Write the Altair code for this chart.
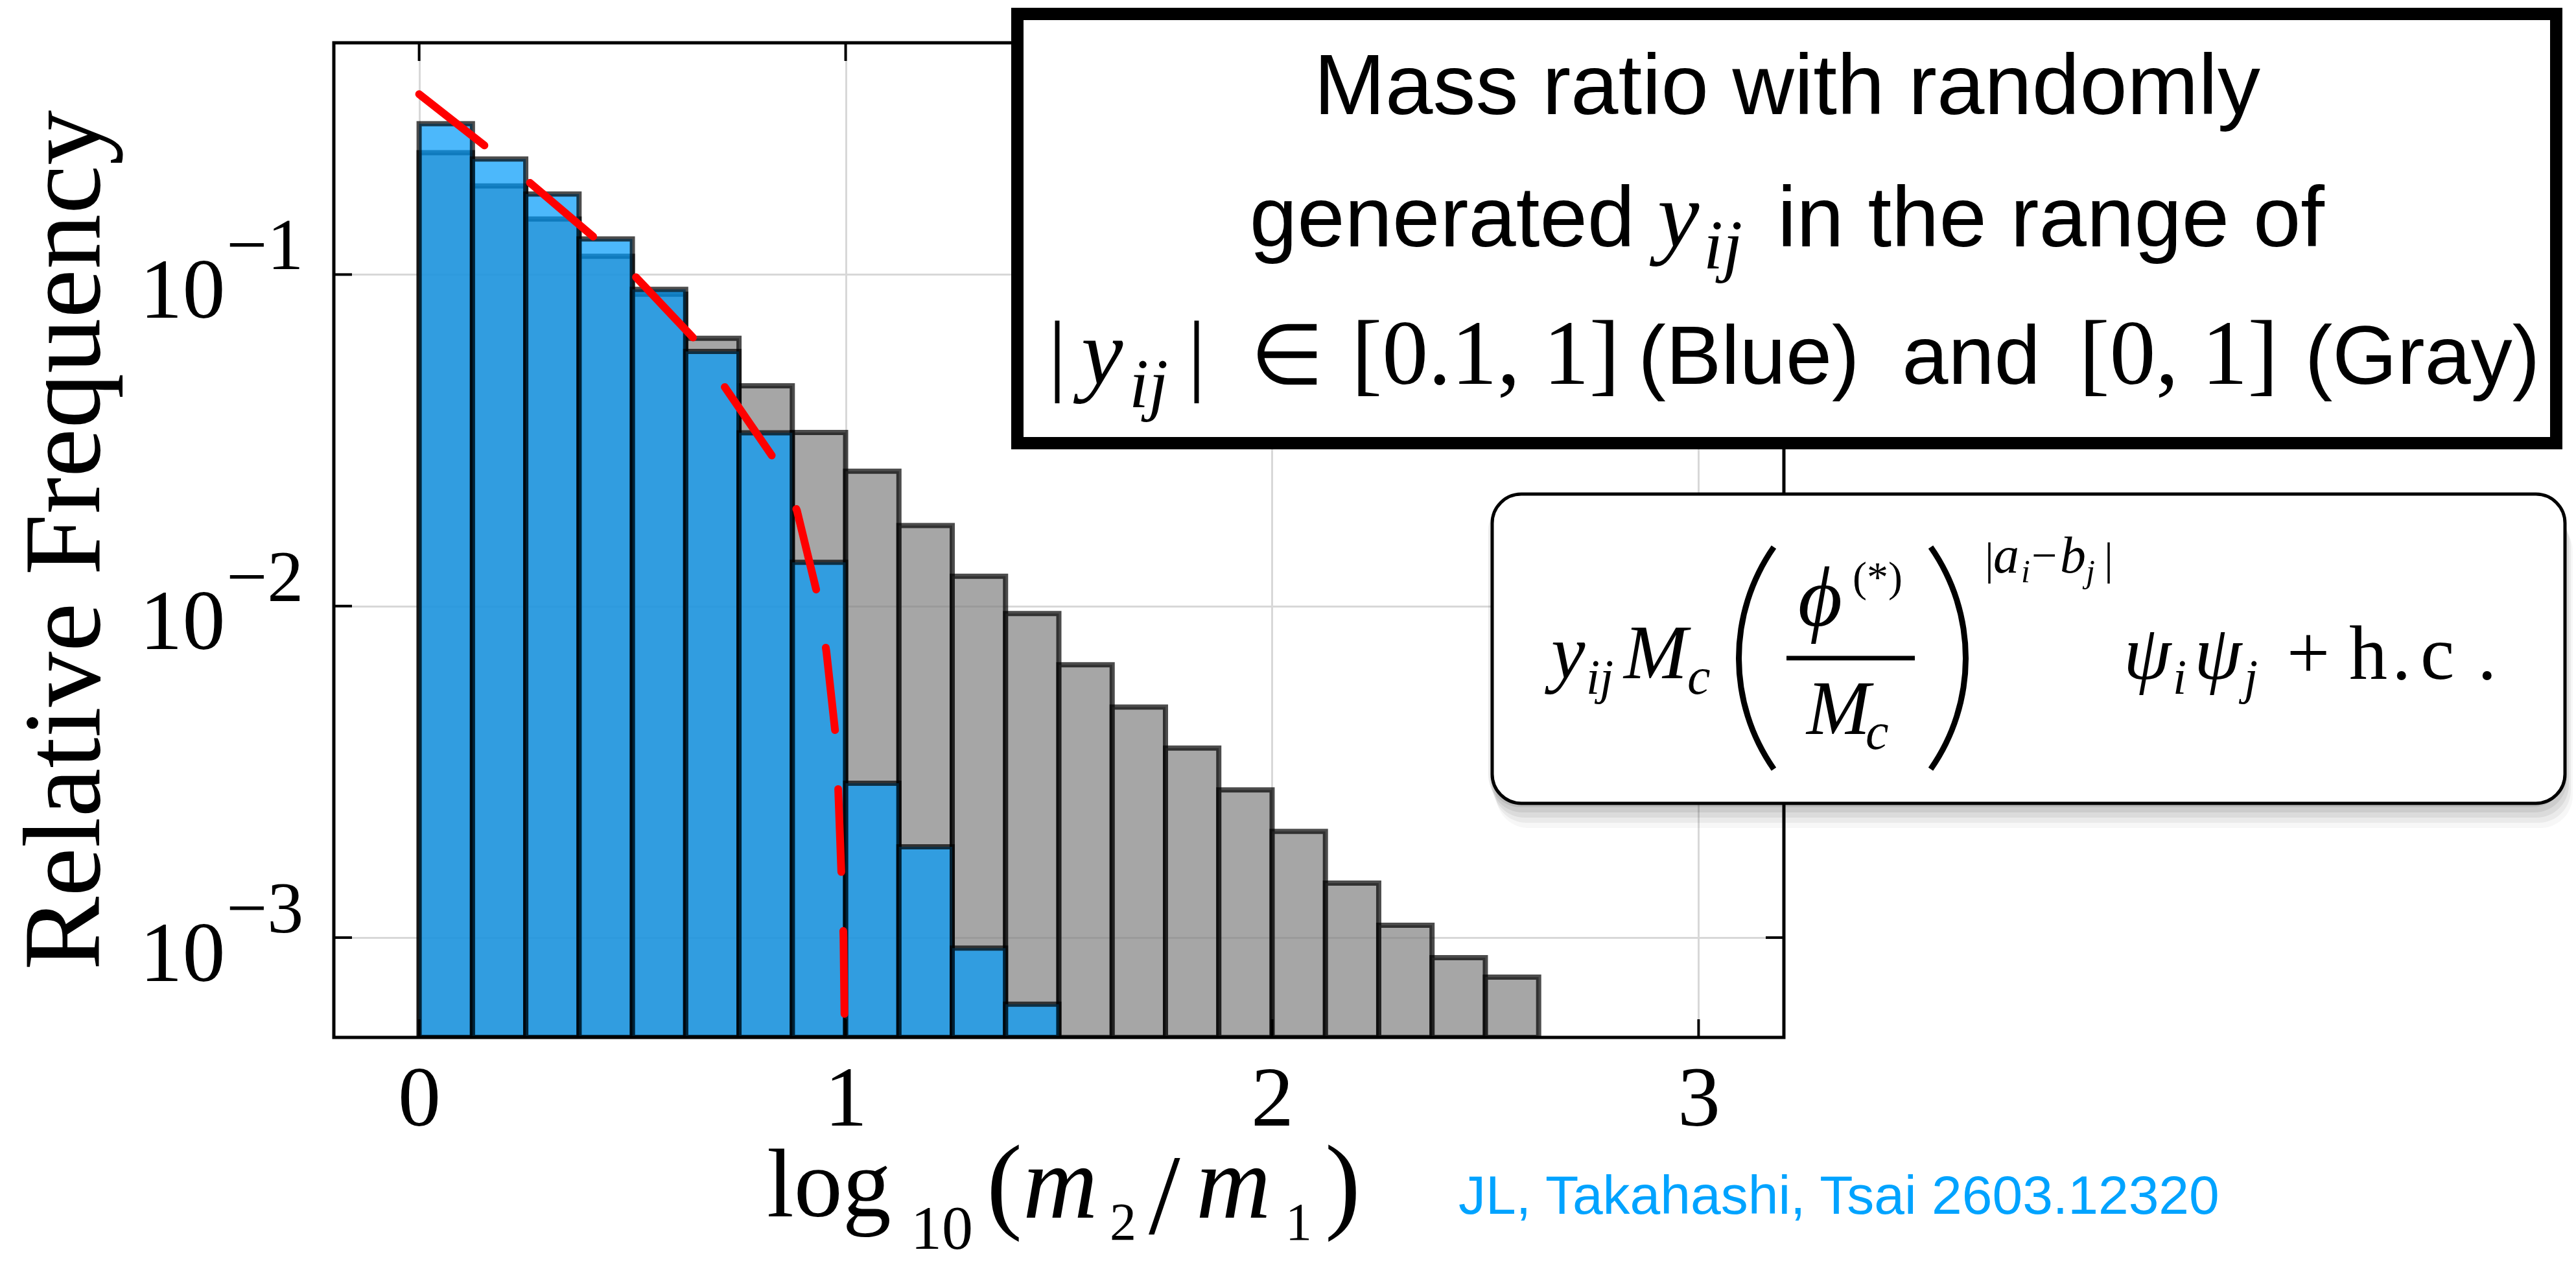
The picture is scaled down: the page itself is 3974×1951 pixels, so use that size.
import altair as alt
import pandas as pd

# ---------------- data ----------------
BIN = 0.125
gray_freq = [0.233, 0.185, 0.147, 0.1135, 0.0872, 0.0642, 0.0462, 0.0334,
             0.0255, 0.0175, 0.0123, 0.0095, 0.00665, 0.00496, 0.00373,
             0.00279, 0.00209, 0.00146, 0.00109, 0.00087, 0.00076]
blue_freq = [0.285, 0.223, 0.175, 0.128, 0.0902, 0.0586, 0.0333, 0.01355,
             0.00292, 0.00188, 0.00093, 0.00063]
curve_x = [0.0, 0.166, 0.258, 0.421, 0.509, 0.653, 0.711, 0.839, 0.886,
           0.936, 0.955, 0.9785, 0.983, 0.991, 0.995, 0.998]
curve_y = [0.35, 0.238, 0.19, 0.126, 0.098, 0.0624, 0.0469, 0.027, 0.0194,
           0.01055, 0.00728, 0.00386, 0.00273, 0.00144, 0.001, 0.0005]
x_ticks = [0, 1, 2, 3]
y_ticks = [0.1, 0.01, 0.001]
y_exp = ["\u22121", "\u22122", "\u22123"]

SERIF = "Liberation Serif"
SANS = "Liberation Sans"
W, H = 2237, 1534
OX, OY = 515, 66

gray_df = pd.DataFrame({
    "x0": [i * BIN for i in range(len(gray_freq))],
    "x1": [(i + 1) * BIN for i in range(len(gray_freq))],
    "v": gray_freq,
})
blue_df = pd.DataFrame({
    "x0": [i * BIN for i in range(len(blue_freq))],
    "x1": [(i + 1) * BIN for i in range(len(blue_freq))],
    "v": blue_freq,
})
curve_df = pd.DataFrame({"x0": curve_x, "v": curve_y})
xt_df = pd.DataFrame({"x0": x_ticks})
yt_df = pd.DataFrame({"v": y_ticks, "e": y_exp})

base = alt.Chart(pd.DataFrame({"d": [0]}))


def txt(s, x, y, size, font=SERIF, style="normal", align="left",
        color="black", angle=0):
    kw = dict(text=s, font=font, fontSize=size, fontStyle=style,
              align=align, baseline="alphabetic", color=color)
    if angle:
        kw["angle"] = angle
    return base.mark_text(**kw).encode(x=alt.value(x - OX), y=alt.value(y - OY))


def rect(x1, x2, y1, y2, **kw):
    return base.mark_rect(**kw).encode(
        x=alt.value(x1 - OX), x2=alt.value(x2 - OX),
        y=alt.value(y1 - OY), y2=alt.value(y2 - OY))


xscale = alt.Scale(domain=[-0.2, 3.2], nice=False, zero=False)
yscale = alt.Scale(type="log", domain=[5e-4, 0.5], nice=False)

x_axis = alt.Axis(values=x_ticks, title=None, grid=True, gridColor="#d8d8d8",
                  gridWidth=3, ticks=False, tickSize=0, domain=False,
                  labelFont=SERIF, labelFontSize=132, labelPadding=135,
                  labelBaseline="alphabetic", labelAlign="center",
                  labelColor="black", labelFlush=False, labelOverlap=False,
                  format="d")
y_axis = alt.Axis(values=y_ticks, title=None, grid=True, gridColor="#d8d8d8",
                  gridWidth=3, ticks=False, tickSize=0, domain=False,
                  labelExpr="'10'", labelFont=SERIF, labelFontSize=132,
                  labelPadding=168, labelOffset=66, labelAlign="right",
                  labelBaseline="alphabetic", labelColor="black",
                  labelFlush=False, labelOverlap=False)


def X(field):
    return alt.X(field, scale=xscale, axis=x_axis)


def Y(field):
    return alt.Y(field, scale=yscale, axis=y_axis)


gray = alt.Chart(gray_df).mark_rect(
    fill="#808080", fillOpacity=0.7, stroke="black", strokeOpacity=0.7,
    strokeWidth=8, clip=True
).encode(x=X("x0:Q"), x2="x1:Q", y=Y("v:Q"), y2=alt.value(H))

blue = alt.Chart(blue_df).mark_rect(
    fill="#009AFA", fillOpacity=0.7, stroke="black", strokeOpacity=0.7,
    strokeWidth=8, clip=True
).encode(x=X("x0:Q"), x2="x1:Q", y=Y("v:Q"), y2=alt.value(H))

curve = alt.Chart(curve_df).mark_line(
    color="#ff0000", strokeWidth=12, strokeDash=[128, 91], strokeCap="round",
    clip=True
).encode(x=X("x0:Q"), y=Y("v:Q"))

frame = base.mark_rect(fill="white", fillOpacity=0, stroke="black",
                       strokeWidth=5).encode(
    x=alt.value(0), x2=alt.value(W), y=alt.value(0), y2=alt.value(H))

tick_kw = dict(color="black", strokeWidth=4)
xt_bottom = alt.Chart(xt_df).mark_rule(**tick_kw).encode(
    x=X("x0:Q"), y=alt.value(H), y2=alt.value(H - 28))
xt_top = alt.Chart(xt_df).mark_rule(**tick_kw).encode(
    x=X("x0:Q"), y=alt.value(0), y2=alt.value(28))
yt_left = alt.Chart(yt_df).mark_rule(**tick_kw).encode(
    y=Y("v:Q"), x=alt.value(0), x2=alt.value(28))
yt_right = alt.Chart(yt_df).mark_rule(**tick_kw).encode(
    y=Y("v:Q"), x=alt.value(W - 28), x2=alt.value(W))

exps = alt.Chart(yt_df).mark_text(
    font=SERIF, fontSize=112, align="left", baseline="alphabetic",
    dy=-8, color="black"
).encode(y=Y("v:Q"), x=alt.value(349 - OX), text="e:N")

layers = [gray, blue, curve, frame, xt_bottom, xt_top, yt_left, yt_right, exps]

# axis titles
layers.append(txt("Relative Frequency", 153, 833, 170, align="center", angle=270))
layers += [
    txt("log", 1183, 1876, 150),
    txt("10", 1405, 1926, 96),
    txt("(", 1522, 1880, 165),
    txt("m", 1578, 1878, 160, style="italic"),
    txt("2", 1712, 1912, 82),
    txt("/", 1772, 1902, 175),
    txt("m", 1845, 1878, 160, style="italic"),
    txt("1", 1983, 1912, 82),
    txt(")", 2044, 1880, 165),
]

# credit
layers.append(txt("JL, Takahashi, Tsai 2603.12320", 2250, 1872, 84,
                  font=SANS, color="#00a3ff"))

# top title box
layers.append(rect(1569.5, 3943.5, 21.5, 683.5, fill="white",
                   stroke="black", strokeWidth=19))
layers += [
    txt("Mass ratio with randomly", 2757, 176, 132, font=SANS, align="center"),
    txt("generated", 2225, 380, 132, font=SANS, align="center"),
    txt("y", 2557, 380, 145, style="italic"),
    txt("ij", 2628, 414, 108, style="italic"),
    txt("in the range of", 3164, 380, 132, font=SANS, align="center"),
    txt("|", 1631, 592, 140, align="center"),
    txt("y", 1668, 592, 145, style="italic"),
    txt("ij", 1742, 628, 108, style="italic"),
    txt("|", 1846, 592, 140, align="center"),
    txt("\u2208", 1985, 592, 130, align="center"),
    txt("[0.1, 1]", 2292, 592, 142, align="center"),
    txt("(Blue)", 2698, 592, 128, font=SANS, align="center"),
    txt("and", 3041, 592, 128, font=SANS, align="center"),
    txt("[0, 1]", 3361, 592, 142, align="center"),
    txt("(Gray)", 3737, 592, 128, font=SANS, align="center"),
]

# formula box with soft shadow
for dx, dy, op in [(0, 6, 0.08), (3, 14, 0.07), (6, 22, 0.06), (9, 30, 0.05),
                   (12, 38, 0.03)]:
    layers.append(rect(2302 + dx - 6, 3957 + dx, 762 + dy, 1239 + dy,
                       fill="black", opacity=op, cornerRadius=50))
layers.append(rect(2302, 3957, 762, 1239, fill="white", stroke="black",
                   strokeWidth=5, cornerRadius=45))

# big parentheses as thin arcs
layers.append(base.mark_arc(theta=4.1015, theta2=5.3233, radius=303,
                            radius2=294, color="black").encode(
    x=alt.value(2981 - OX), y=alt.value(1015 - OY)))
layers.append(base.mark_arc(theta=0.9599, theta2=2.1817, radius=303,
                            radius2=294, color="black").encode(
    x=alt.value(2734 - OX), y=alt.value(1015 - OY)))
# fraction bar
layers.append(base.mark_rule(color="black", strokeWidth=7).encode(
    x=alt.value(2756 - OX), x2=alt.value(2954 - OX), y=alt.value(1015 - OY)))

layers += [
    txt("y", 2393, 1046, 118, style="italic"),
    txt("ij", 2447, 1070, 76, style="italic"),
    txt("M", 2505, 1046, 118, style="italic"),
    txt("c", 2603, 1070, 80, style="italic"),
    txt("\u03d5", 2808, 965, 132, style="italic", align="center"),
    txt("(*)", 2858, 912, 66),
    txt("M", 2787, 1132, 118, style="italic"),
    txt("c", 2878, 1155, 80, style="italic"),
    txt("|", 3062, 885, 70),
    txt("a", 3075, 883, 80, style="italic"),
    txt("i", 3118, 898, 50, style="italic"),
    txt("\u2212", 3134, 880, 70),
    txt("b", 3178, 883, 80, style="italic"),
    txt("j", 3218, 898, 50, style="italic"),
    txt("|", 3246, 885, 70),
    txt("\u03c8", 3276, 1047, 118, style="italic"),
    txt("i", 3352, 1070, 76, style="italic"),
    txt("\u03c8", 3385, 1047, 118, style="italic"),
    txt("j", 3462, 1070, 76, style="italic"),
    txt("+", 3561, 1047, 118, align="center"),
    txt("h", 3624, 1047, 118),
    txt(".", 3690, 1047, 118),
    txt("c", 3734, 1047, 118),
    txt(".", 3822, 1047, 118),
]

chart = alt.layer(*layers).properties(
    width=W, height=H,
    autosize=alt.AutoSizeParams(type="none"),
    padding={"left": OX, "top": OY, "right": 3974 - OX - W,
             "bottom": 1951 - OY - H},
    background="white",
).configure_view(stroke="transparent")

chart.save("out.html", embed_options={"renderer": "svg", "actions": False})
